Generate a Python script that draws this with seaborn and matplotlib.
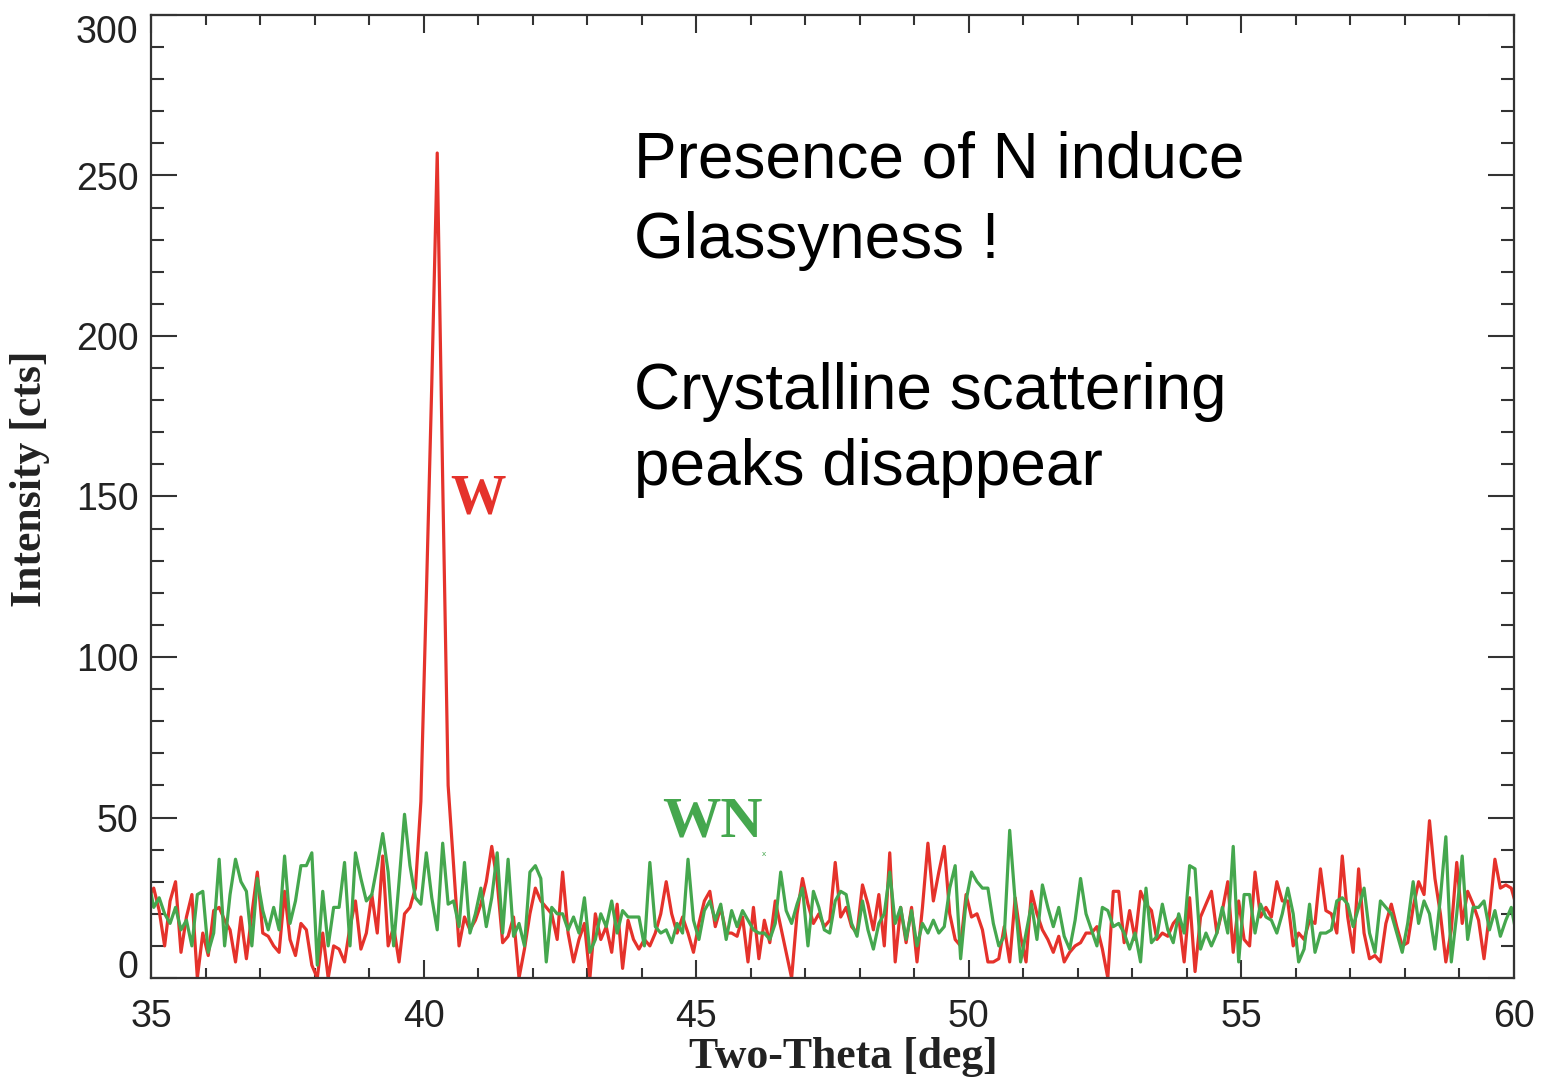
import numpy as np
import pandas as pd
import matplotlib
matplotlib.use("Agg")
import matplotlib.pyplot as plt
from matplotlib.ticker import MultipleLocator
import seaborn as sns

# ---- data ----
two_theta_start = 34.95
two_theta_step = 0.1

intensity_W = [
    25, 28, 21, 10, 24, 30, 8, 19, 26, 0,
    14, 7, 21, 22, 18, 15, 5, 19, 6, 20,
    33, 14, 13, 10, 8, 27, 12, 7, 17, 15,
    4, 0, 14, 0, 10, 9, 5, 16, 24, 9,
    14, 26, 14, 38, 10, 16, 5, 20, 22, 28,
    55, 119, 185, 257, 155, 60, 35, 10, 19, 15,
    18, 23, 30, 41, 30, 11, 13, 19, 0, 9,
    20, 28, 24, 22, 20, 12, 33, 14, 5, 12,
    17, 0, 20, 12, 16, 8, 23, 3, 18, 12,
    9, 12, 10, 14, 20, 30, 20, 14, 19, 14,
    8, 17, 24, 27, 16, 22, 14, 14, 13, 19,
    5, 22, 6, 18, 11, 24, 16, 8, 0, 20,
    31, 23, 17, 20, 16, 18, 36, 19, 22, 16,
    14, 29, 23, 15, 26, 10, 39, 5, 22, 11,
    22, 5, 22, 42, 24, 33, 41, 20, 12, 10,
    26, 19, 20, 15, 5, 5, 6, 16, 5, 25,
    13, 5, 27, 20, 15, 12, 8, 13, 5, 8,
    10, 11, 14, 14, 16, 9, 0, 27, 27, 11,
    21, 12, 27, 23, 21, 12, 14, 13, 17, 19,
    5, 25, 2, 19, 23, 27, 14, 21, 30, 8,
    24, 12, 10, 33, 19, 22, 19, 30, 24, 24,
    10, 14, 12, 18, 17, 34, 21, 20, 14, 38,
    19, 8, 34, 14, 6, 7, 5, 17, 23, 16,
    10, 11, 22, 30, 26, 49, 31, 20, 5, 15,
    36, 17, 27, 23, 18, 6, 20, 37, 28, 29,
    28, 22,
]

intensity_WN = [
    31, 22, 25, 20, 17, 22, 15, 18, 10, 26,
    27, 8, 14, 37, 10, 26, 37, 30, 27, 10,
    31, 21, 15, 22, 15, 38, 17, 24, 35, 35,
    39, 4, 27, 10, 22, 22, 36, 10, 39, 31,
    24, 26, 35, 45, 33, 10, 30, 51, 35, 25,
    23, 39, 25, 15, 42, 23, 24, 16, 36, 14,
    20, 28, 16, 25, 39, 14, 37, 13, 17, 10,
    33, 35, 31, 5, 22, 20, 20, 15, 19, 14,
    25, 8, 12, 20, 16, 24, 14, 21, 19, 19,
    19, 10, 36, 16, 14, 15, 11, 17, 14, 37,
    18, 12, 21, 24, 18, 23, 12, 21, 16, 21,
    18, 15, 14, 14, 12, 17, 33, 21, 17, 23,
    28, 10, 27, 22, 15, 14, 24, 27, 26, 17,
    13, 24, 15, 9, 17, 20, 33, 17, 22, 12,
    21, 10, 17, 14, 18, 14, 16, 28, 35, 6,
    24, 33, 30, 28, 28, 17, 10, 13, 46, 24,
    5, 14, 23, 12, 29, 22, 16, 22, 13, 9,
    18, 31, 20, 15, 10, 22, 21, 16, 17, 14,
    9, 14, 5, 28, 11, 13, 23, 15, 11, 20,
    14, 35, 34, 9, 14, 10, 14, 22, 14, 41,
    5, 26, 26, 14, 23, 19, 18, 14, 20, 28,
    20, 5, 9, 23, 8, 14, 14, 15, 24, 25,
    23, 16, 22, 28, 14, 8, 24, 22, 20, 14,
    8, 17, 30, 17, 24, 20, 9, 25, 44, 5,
    20, 38, 12, 22, 22, 24, 15, 21, 13, 18,
    22, 13,
]

x_ticks = [35, 40, 45, 50, 55, 60]
y_ticks = [0, 50, 100, 150, 200, 250, 300]
x_label = "Two-Theta [deg]"
y_label = "Intensity [cts]"
annotation_1 = "Presence of N induce\nGlassyness !"
annotation_2 = "Crystalline scattering\npeaks disappear"
label_W = "W"
label_WN = "WN"

# ---- build tables ----
n = len(intensity_W)
two_theta = np.round(two_theta_start + two_theta_step * np.arange(n), 4)
df = pd.DataFrame({
    "two_theta": np.concatenate([two_theta, two_theta]),
    "intensity": intensity_W + intensity_WN,
    "sample": [label_W] * n + [label_WN] * n,
})

sns.set_theme(style="white")
plt.rcParams["font.family"] = ["Liberation Sans", "DejaVu Sans"]

RED = "#E5322B"
GREEN = "#45A74E"
AX_COL = "#333333"

fig = plt.figure(figsize=(15.49, 10.78), dpi=100)
ax = fig.add_axes([151 / 1549, 1 - 978 / 1078, (1514 - 151) / 1549, (978 - 15) / 1078])

sns.lineplot(data=df, x="two_theta", y="intensity", hue="sample",
             palette={label_W: RED, label_WN: GREEN}, hue_order=[label_W, label_WN],
             linewidth=2.3, legend=False, ax=ax, estimator=None, sort=False)

ax.set_xlim(35, 60)
ax.set_ylim(0, 300)
ax.set_xticks(x_ticks, labels=[str(v) for v in x_ticks])
ax.set_yticks(y_ticks, labels=[str(v) for v in y_ticks])
ax.xaxis.set_minor_locator(MultipleLocator(1))
ax.yaxis.set_minor_locator(MultipleLocator(10))

for sp in ax.spines.values():
    sp.set_visible(True)
    sp.set_color(AX_COL)
    sp.set_linewidth(1.6)

ax.tick_params(axis="x", which="major", direction="in", length=13, width=1.5,
               colors=AX_COL, labelcolor="#222222", labelsize=27, pad=15,
               top=True, bottom=True)
ax.tick_params(axis="x", which="minor", direction="in", length=7, width=1.5,
               colors=AX_COL, top=True, bottom=True)
ax.tick_params(axis="y", which="major", direction="in", length=19, width=1.5,
               colors=AX_COL, labelcolor="#222222", labelsize=27, pad=9,
               left=True, right=True)
ax.tick_params(axis="y", which="minor", direction="in", length=9.5, width=1.5,
               colors=AX_COL, left=True, right=True)

yt = ax.yaxis.get_major_ticks()
yt[0].label1.set_verticalalignment("baseline")
yt[-1].label1.set_verticalalignment("top")

serif = ["Liberation Serif", "DejaVu Serif"]
ax.set_xlabel(x_label, fontsize=31.5, fontweight="bold", family=serif,
              color="#222222")
ax.set_ylabel(y_label, fontsize=31.5, fontweight="bold", family=serif,
              color="#222222")
ax.xaxis.set_label_coords(0.508, -0.061)
ax.yaxis.set_label_coords(-0.074, 0.518)

ax.text(0.354, 0.807, annotation_1, transform=ax.transAxes, fontsize=46,
        color="black", va="center", ha="left", linespacing=1.42)
ax.text(0.354, 0.569, annotation_2, transform=ax.transAxes, fontsize=46,
        color="black", va="center", ha="left", linespacing=1.33)

ax.text(0.240, 0.497, label_W, transform=ax.transAxes, fontsize=40,
        fontweight="bold", family=serif, color=RED, ha="center", va="center")
ax.text(0.412, 0.161, label_WN, transform=ax.transAxes, fontsize=42,
        fontweight="bold", family=serif, color=GREEN, ha="center", va="center")
ax.text(0.450, 0.128, "x", transform=ax.transAxes, fontsize=6,
        color=GREEN, ha="center", va="center")

fig.savefig("out.png", dpi=100)
